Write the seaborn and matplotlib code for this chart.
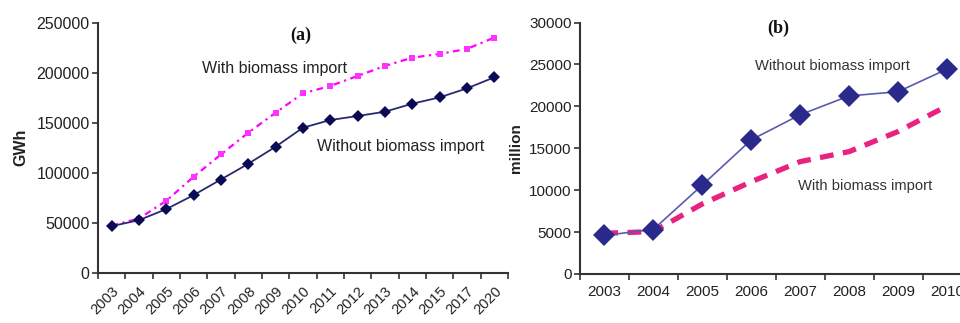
import matplotlib
matplotlib.use("Agg")
import matplotlib.pyplot as plt
import seaborn as sns
import pandas as pd
import numpy as np

# ---- data ----
years_a = ["2003", "2004", "2005", "2006", "2007", "2008", "2009", "2010",
           "2011", "2012", "2013", "2014", "2015", "2017", "2020"]
without_a = [46700, 52700, 63700, 77700, 93300, 109000, 126000, 145000,
             152700, 156700, 161000, 169000, 175300, 184300, 195300]
with_a = [47300, 54300, 72000, 96000, 118300, 140000, 160000, 179300,
          186700, 196700, 206700, 215000, 218700, 223700, 235000]

years_b = ["2003", "2004", "2005", "2006", "2007", "2008", "2009", "2010"]
without_b = [4600, 5300, 10600, 16000, 19000, 21250, 21750, 24450]
with_b = [4850, 5050, 8350, 11000, 13400, 14600, 17000, 20050]

yticks_a = [0, 50000, 100000, 150000, 200000, 250000]
yticks_b = [0, 5000, 10000, 15000, 20000, 25000, 30000]

sns.set_style("ticks")
plt.rcParams["font.family"] = ["Liberation Sans", "DejaVu Sans"]

H = 323
fig = plt.figure(figsize=(9.6, 3.23), dpi=100)
ax_a = fig.add_axes([0.102, 0.155, 0.427, 0.775])
ax_b = fig.add_axes([0.604, 0.152, 0.408, 0.778])

txt = "#222222"

# ---- panel (a) ----
df_a = pd.DataFrame({"year": years_a, "without": without_a, "with": with_a})
sns.lineplot(data=df_a, x="year", y="with", ax=ax_a, sort=False,
             color="#ff00ff", lw=1.6, linestyle=(0, (3, 2, 1, 2)),
             marker="s", markersize=4, markeredgewidth=0,
             markerfacecolor="#ff33ff")
sns.lineplot(data=df_a, x="year", y="without", ax=ax_a, sort=False,
             color="#2a2a70", lw=1.3,
             marker="D", markersize=6, markeredgewidth=0,
             markerfacecolor="#0b0b55")
n_a = len(years_a)
ax_a.set_xlim(-0.5, n_a - 0.5)
ax_a.set_ylim(0, 250000)
ax_a.set_yticks(yticks_a)
ax_a.set_yticklabels([str(v) for v in yticks_a], fontsize=11.5, color=txt)
ax_a.set_xticks(range(n_a))
ax_a.set_xticklabels(years_a, rotation=45, ha="right", rotation_mode="anchor",
                     fontsize=10.5, color=txt)
ax_a.set_xticks(np.arange(-0.5, n_a, 1.0), minor=True)
ax_a.tick_params(axis="x", which="major", length=0, pad=8)
ax_a.tick_params(axis="x", which="minor", length=4, width=1.2, color="#333333")
ax_a.tick_params(axis="y", length=4, width=1.2, color="#333333", pad=2)
ax_a.set_xlabel("")
ax_a.set_ylabel("GWh", fontsize=11.5, fontweight="bold", color=txt, labelpad=6)
ax_a.text(0.495, 0.95, "(a)", transform=ax_a.transAxes, ha="center", va="center",
          fontsize=13, fontweight="bold", family=["Liberation Serif", "DejaVu Serif"],
          color="#111111")
ax_a.text(202, H - 68, "With biomass import", transform=None, ha="left",
          va="center", fontsize=11.5, color=txt)
ax_a.text(317, H - 147, "Without biomass import", transform=None, ha="left",
          va="center", fontsize=11.5, color=txt)

# ---- panel (b) ----
df_b = pd.DataFrame({"year": years_b, "without": without_b, "with": with_b})
sns.lineplot(data=df_b, x="year", y="with", ax=ax_b, sort=False,
             color="#e8227e", lw=3.8, linestyle=(0, (2.6, 1.8)))
sns.lineplot(data=df_b, x="year", y="without", ax=ax_b, sort=False,
             color="#5a5ab0", lw=1.2,
             marker="D", markersize=11, markeredgewidth=0,
             markerfacecolor="#2a2a8c")
n_b = len(years_b)
ax_b.set_xlim(-0.5, n_b - 0.5)
ax_b.set_ylim(0, 30000)
ax_b.set_yticks(yticks_b)
ax_b.set_yticklabels([str(v) for v in yticks_b], fontsize=11, color=txt)
ax_b.set_xticks(range(n_b))
ax_b.set_xticklabels(years_b, fontsize=11, color=txt)
ax_b.set_xticks(np.arange(-0.5, n_b, 1.0), minor=True)
ax_b.tick_params(axis="x", which="major", length=0, pad=8)
ax_b.tick_params(axis="x", which="minor", length=4, width=1.2, color="#333333")
ax_b.tick_params(axis="y", length=4, width=1.2, color="#333333", pad=2)
ax_b.set_xlabel("")
ax_b.set_ylabel("million", fontsize=11, fontweight="bold", color=txt, labelpad=4)
ax_b.text(778, H - 28, "(b)", transform=None, ha="center", va="center",
          fontsize=13, fontweight="bold", family=["Liberation Serif", "DejaVu Serif"],
          color="#111111")
ax_b.text(755, H - 66, "Without biomass import", transform=None, ha="left",
          va="center", fontsize=10.6, color="#333333")
ax_b.text(798, H - 186, "With biomass import", transform=None, ha="left",
          va="center", fontsize=10.6, color="#333333")

for ax in (ax_a, ax_b):
    sns.despine(ax=ax)
    for s in ("left", "bottom"):
        ax.spines[s].set_linewidth(1.5)
        ax.spines[s].set_color("#333333")

fig.savefig("out.png", dpi=100)
